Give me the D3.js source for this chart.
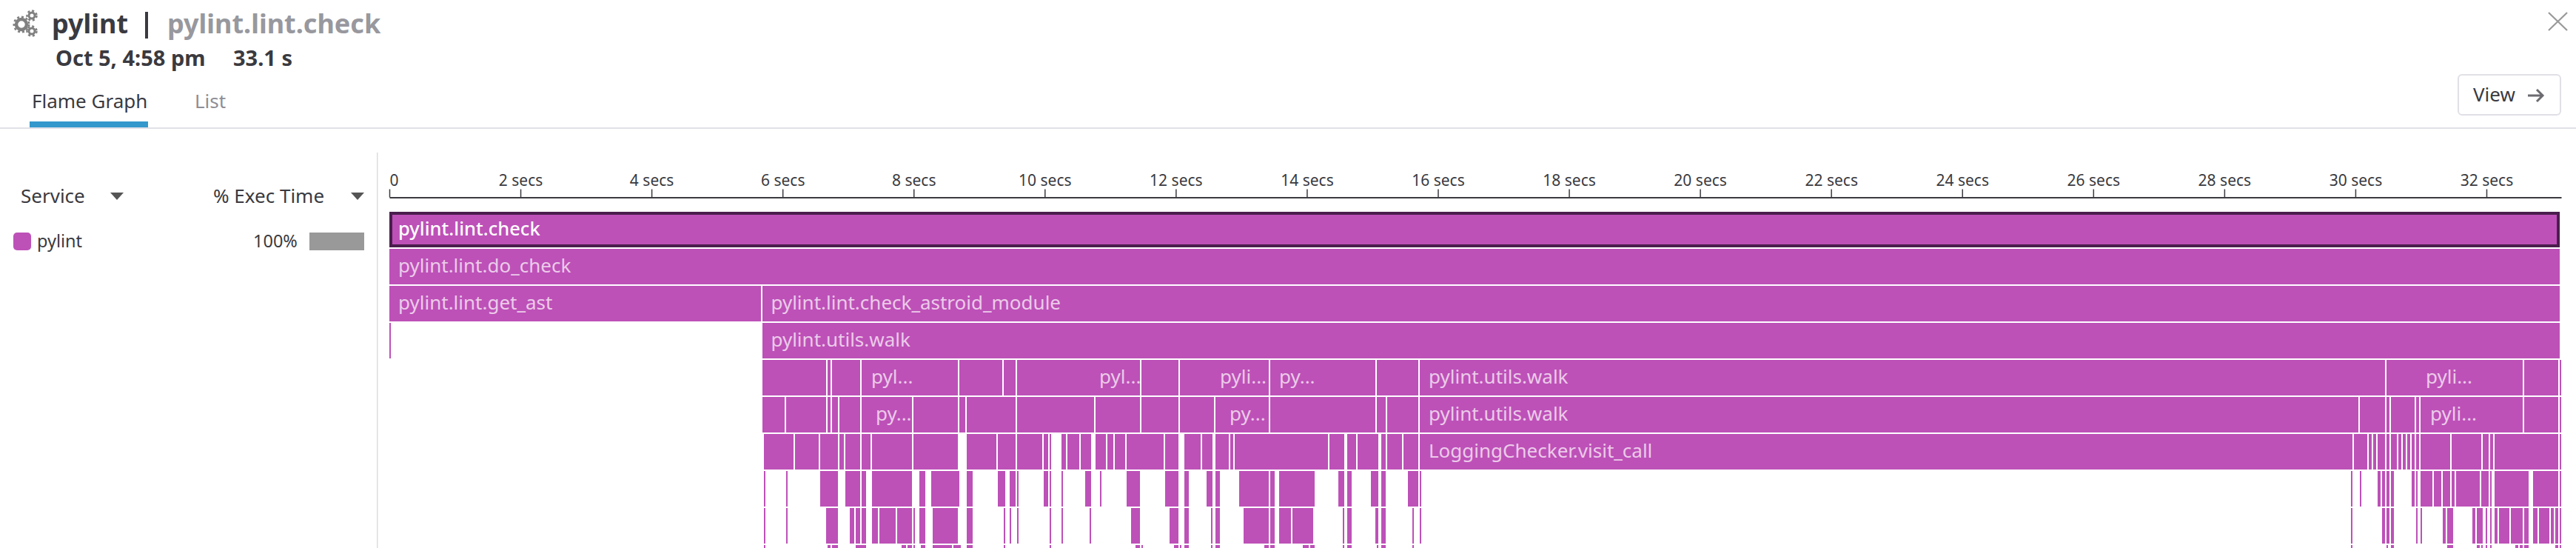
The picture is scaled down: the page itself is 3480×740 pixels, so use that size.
<!DOCTYPE html>
<html>
<head>
<meta charset="utf-8">
<script src="https://cdn.jsdelivr.net/npm/d3@7"></script>
<style>
  html, body { margin: 0; padding: 0; background: #fff; overflow: hidden; }
  svg { display: block; font-family: "Noto Sans", "Open Sans", sans-serif; }
  .axis text { font-size: 21px; fill: #3a3a40; font-family: "Noto Sans", "Open Sans", sans-serif; }
  .axis path, .axis line { stroke: #3a3a40; }
  .axis path { stroke-width: 2px; }
  .axis line { stroke-width: 1.5px; }
  .span { fill: #bd51b8; shape-rendering: crispEdges; }
  .span-label { font-size: 26px; fill: #eccbe9; }
  .span-label.selected { fill: #fff; font-size: 25.5px; font-weight: 500; }
</style>
</head>
<body>
<svg id="chart" width="3480" height="740"></svg>
<script>
// all values are seconds
var TOTAL = 33.141;
var TICKS = [0, 2, 4, 6, 8, 10, 12, 14, 16, 18, 20, 22, 24, 26, 28, 30, 32];

var ROW_0 = [[0, 33.119]];
var ROW_1 = [[0, 33.119]];
var ROW_2 = [[0, 5.670], [5.693, 33.119]];
var ROW_3 = [[0, 0.023], [5.693, 33.119]];
var ROW_4 = [[5.693, 6.664], [6.687, 6.732], [6.755, 7.184], [7.207, 8.675], [8.698, 9.353], [9.375, 9.556],
    [9.579, 11.454], [11.476, 12.041], [12.064, 13.419], [13.442, 15.046], [15.068, 15.701], [15.723, 30.453],
    [30.476, 32.554], [32.576, 33.096], [33.119, 33.141]];
var ROW_5 = [[5.693, 6.032], [6.054, 6.664], [6.687, 6.732], [6.755, 6.845], [6.868, 7.184], [7.207, 7.975],
    [7.997, 8.675], [8.698, 8.788], [8.811, 9.556], [9.579, 10.753], [10.776, 11.454], [11.476, 12.041],
    [12.064, 12.583], [12.606, 13.419], [13.442, 15.046], [15.068, 15.204], [15.226, 15.701], [15.723, 30.046],
    [30.069, 30.453], [30.476, 30.521], [30.543, 30.905], [30.928, 30.973], [30.995, 32.554], [32.576, 33.096],
    [33.119, 33.141]];
var ROW_6 = [[5.716, 6.167], [6.190, 6.551], [6.574, 6.845], [6.868, 6.935], [6.958, 7.184], [7.207, 7.342],
    [7.365, 7.975], [7.997, 8.675], [8.811, 9.262], [9.285, 9.556], [9.579, 9.963], [9.985, 10.053],
    [10.076, 10.098], [10.256, 10.324], [10.347, 10.528], [10.550, 10.708], [10.776, 10.934], [10.957, 11.047],
    [11.070, 11.228], [11.250, 11.815], [11.838, 12.041], [12.131, 12.380], [12.403, 12.561], [12.606, 12.809],
    [12.832, 12.877], [12.900, 14.323], [14.345, 14.571], [14.617, 14.752], [14.775, 15.091], [15.136, 15.204],
    [15.226, 15.452], [15.475, 15.701], [15.723, 29.956], [29.979, 30.182], [30.204, 30.250], [30.272, 30.317],
    [30.340, 30.453], [30.476, 30.521], [30.543, 30.634], [30.656, 30.701], [30.724, 30.769], [30.792, 30.837],
    [30.860, 30.905], [30.928, 30.973], [30.995, 31.447], [31.470, 31.921], [31.944, 32.034], [32.057, 32.102],
    [32.125, 33.096], [33.119, 33.141]];
var ROW_7 = [[5.716, 5.738], [6.054, 6.077], [6.574, 6.845], [6.958, 7.184], [7.207, 7.274], [7.365, 7.975],
    [8.088, 8.178], [8.268, 8.698], [8.811, 8.901], [9.285, 9.398], [9.466, 9.556], [9.579, 9.601],
    [9.985, 10.053], [10.076, 10.098], [10.256, 10.279], [10.618, 10.708], [10.844, 10.866], [11.250, 11.454],
    [11.838, 12.041], [12.131, 12.199], [12.470, 12.561], [12.606, 12.674], [12.967, 13.419], [13.442, 13.510],
    [13.577, 14.120], [14.481, 14.571], [14.617, 14.684], [14.978, 15.091], [15.136, 15.204], [15.543, 15.701],
    [15.723, 15.746], [29.933, 29.956], [30.069, 30.091], [30.340, 30.385], [30.408, 30.453], [30.476, 30.521],
    [30.543, 30.589], [30.860, 30.905], [30.928, 30.950], [30.995, 31.176], [31.199, 31.311], [31.334, 31.447],
    [31.470, 31.515], [31.537, 31.899], [31.921, 32.034], [32.057, 32.080], [32.125, 32.644], [32.712, 33.096],
    [33.119, 33.141]];
var ROW_8 = [[5.716, 5.738], [6.054, 6.077], [6.664, 6.845], [7.026, 7.094], [7.116, 7.184], [7.207, 7.274],
    [7.365, 7.455], [7.478, 7.726], [7.749, 7.975], [7.997, 8.020], [8.088, 8.178], [8.291, 8.675],
    [8.811, 8.901], [9.375, 9.398], [9.466, 9.488], [9.579, 9.601], [10.076, 10.098], [10.256, 10.279],
    [10.686, 10.708], [11.318, 11.454], [11.906, 12.041], [12.131, 12.199], [12.538, 12.561], [12.606, 12.674],
    [13.035, 13.419], [13.442, 13.510], [13.577, 13.758], [13.781, 14.097], [14.549, 14.571], [14.617, 14.684],
    [15.046, 15.091], [15.136, 15.204], [15.611, 15.633], [15.723, 15.746], [29.933, 29.956], [30.408, 30.453],
    [30.476, 30.521], [30.543, 30.589], [30.928, 30.950], [30.995, 31.018], [31.334, 31.379], [31.402, 31.492],
    [31.786, 31.831], [31.854, 31.944], [31.989, 32.012], [32.057, 32.080], [32.125, 32.170], [32.192, 32.351],
    [32.374, 32.554], [32.576, 32.644], [32.712, 32.780], [32.802, 32.961], [32.983, 33.028], [33.051, 33.096],
    [33.119, 33.141]];
var ROW_9 = [[5.716, 5.738], [6.687, 6.732], [6.755, 6.845], [7.116, 7.274], [7.817, 7.884], [7.907, 7.975],
    [7.997, 8.020], [8.110, 8.178], [8.291, 8.585], [8.607, 8.720], [8.811, 8.901], [9.375, 9.398],
    [10.076, 10.098], [11.386, 11.454], [11.476, 11.499], [11.973, 12.041], [12.064, 12.086], [12.131, 12.199],
    [12.538, 12.561], [12.606, 12.674], [13.351, 13.419], [13.442, 13.510], [13.939, 14.029], [14.052, 14.120],
    [14.549, 14.571], [14.617, 14.684], [15.068, 15.091], [15.136, 15.204], [15.611, 15.633], [29.933, 29.956],
    [30.476, 30.498], [30.543, 30.589], [31.402, 31.492], [31.854, 31.899], [31.921, 31.944], [31.989, 32.012],
    [32.057, 32.080], [32.441, 32.486], [32.509, 32.554], [32.576, 32.644], [33.051, 33.096], [33.119, 33.141]];
var ROWS = [ROW_0, ROW_1, ROW_2, ROW_3, ROW_4, ROW_5, ROW_6, ROW_7, ROW_8, ROW_9];

// row, second the text starts at, text
var LABEL_ROWS = [0, 1, 2, 2, 3, 4, 4, 4, 4, 4, 4, 5, 5, 5, 5, 6];
var LABEL_STARTS = [0.136, 0.136, 0.136, 5.822, 5.822, 7.354, 10.833, 12.674, 13.577, 15.859, 31.074,
    7.421, 12.821, 15.859, 31.142, 15.859];
var LABEL_TEXTS = ["pylint.lint.check", "pylint.lint.do_check", "pylint.lint.get_ast",
    "pylint.lint.check_astroid_module", "pylint.utils.walk", "pyl...", "pyl...", "pyli...", "py...",
    "pylint.utils.walk", "pyli...", "py...", "py...", "pylint.utils.walk", "pyli...", "LoggingChecker.visit_call"];

var ROW_TOP = 286;
var ROW_STEP = 50;
var BAR_HEIGHT = 48;

var xScale = d3.scaleLinear().domain([0, TOTAL]).range([526, 3460]);
var yScale = d3.scaleLinear().domain([0, 1]).range([ROW_TOP, ROW_TOP + ROW_STEP]);
var svg = d3.select("#chart");

function addText(x, y, size, color, weight, str) {
    return svg.append("text").attr("x", x).attr("y", y)
        .style("font-size", size + "px").style("font-weight", weight)
        .attr("fill", color).text(str);
}

function drawHeader() {
    // gear icon
    [[29, 33, 7, 4.5], [43, 21, 4, 3], [43, 42, 4, 3]].forEach(function(g) {
        svg.append("circle").attr("cx", g[0]).attr("cy", g[1]).attr("r", g[2])
            .attr("fill", "none").attr("stroke", "#808080").attr("stroke-width", g[3]);
        svg.append("circle").attr("cx", g[0]).attr("cy", g[1]).attr("r", g[2] + g[3] / 2 + 1)
            .attr("fill", "none").attr("stroke", "#808080").attr("stroke-width", 2.5)
            .attr("stroke-dasharray", "3 3");
    });

    addText(70, 45, 36, "#3a3a40", 700, "pylint");
    svg.append("rect").attr("x", 196).attr("y", 16).attr("width", 4).attr("height", 36).attr("fill", "#3a3a40");
    addText(226, 45, 36, "#98989e", 700, "pylint.lint.check");
    addText(75, 89, 29, "#3a3a40", 700, "Oct 5, 4:58 pm");
    addText(315, 89, 29, "#3a3a40", 700, "33.1 s");

    addText(43, 146, 26, "#3a3a40", 400, "Flame Graph");
    addText(263, 146, 26, "#8e8e96", 400, "List");
    svg.append("rect").attr("x", 40).attr("y", 164).attr("width", 160).attr("height", 8).attr("fill", "#3498cc");
    svg.append("rect").attr("x", 0).attr("y", 172).attr("width", 3480).attr("height", 2).attr("fill", "#e0e0e8");

    // close cross
    svg.append("path").attr("d", "M3443,17L3468,41M3468,17L3443,41")
        .attr("stroke", "#999").attr("stroke-width", 2.2).attr("fill", "none");

    // view button
    svg.append("rect").attr("x", 3321).attr("y", 101).attr("width", 138).attr("height", 54).attr("rx", 5)
        .attr("fill", "#fff").attr("stroke", "#e0e0e6").attr("stroke-width", 2);
    addText(3341, 137, 26, "#3a3a40", 400, "View");
    svg.append("path").attr("d", "M3415,129H3435M3427,121L3435,129L3427,137")
        .attr("stroke", "#6b6b70").attr("stroke-width", 3).attr("fill", "none");
}

function drawLegend() {
    svg.append("rect").attr("x", 509).attr("y", 206).attr("width", 1.5).attr("height", 534).attr("fill", "#ddd");

    addText(28, 274, 26, "#3a3a40", 400, "Service");
    addText(288, 274, 26, "#3a3a40", 400, "% Exec Time");
    [158, 483].forEach(function(cx) {
        svg.append("path").attr("d", "M" + (cx - 9) + ",260H" + (cx + 9) + "L" + cx + ",270Z").attr("fill", "#555");
    });

    svg.append("rect").attr("x", 18).attr("y", 314).attr("width", 24).attr("height", 24).attr("rx", 5).attr("fill", "#bd51b8");
    addText(50, 334, 23.5, "#3a3a40", 400, "pylint");
    addText(342, 334, 23.5, "#3a3a40", 400, "100%");
    svg.append("rect").attr("x", 418).attr("y", 314).attr("width", 74).attr("height", 24).attr("fill", "#999");
}

function drawAxis() {
    var xAxis = d3.axisTop(xScale)
        .tickValues(TICKS)
        .tickSize(11)
        .tickSizeOuter(0)
        .tickFormat(function(d) { return d === 0 ? "0" : d + " secs"; });

    var axis = svg.append("g").attr("class", "axis")
        .attr("transform", "translate(0,266.5)")
        .attr("font-family", null)
        .call(xAxis);
    axis.selectAll("text").attr("y", -16);
    axis.selectAll(".tick text").filter(function(d) { return d === 0; }).attr("text-anchor", "start");
}

function drawRows() {
    var rows = svg.append("g");
    ROWS.forEach(function(spans, r) {
        rows.selectAll(null).data(spans).enter().append("rect")
            .attr("class", "span")
            .attr("x", function(d) { return xScale(d[0]); })
            .attr("y", yScale(r))
            .attr("width", function(d) { return xScale(d[1]) - xScale(d[0]); })
            .attr("height", BAR_HEIGHT);
    });

    // selected root span gets a dark outline
    rows.append("rect")
        .attr("x", xScale(ROW_0[0][0]) + 2).attr("y", yScale(0) + 2)
        .attr("width", xScale(ROW_0[0][1]) - xScale(ROW_0[0][0]) - 4).attr("height", BAR_HEIGHT - 4)
        .attr("fill", "none").attr("stroke", "#4a1d4d").attr("stroke-width", 4);

    svg.append("g").selectAll("text").data(LABEL_TEXTS).enter().append("text")
        .attr("class", function(d, i) { return LABEL_ROWS[i] === 0 ? "span-label selected" : "span-label"; })
        .attr("x", function(d, i) { return xScale(LABEL_STARTS[i]); })
        .attr("y", function(d, i) { return yScale(LABEL_ROWS[i]) + 32; })
        .text(function(d) { return d; });
}

drawHeader();
drawLegend();
drawAxis();
drawRows();
</script>
</body>
</html>
